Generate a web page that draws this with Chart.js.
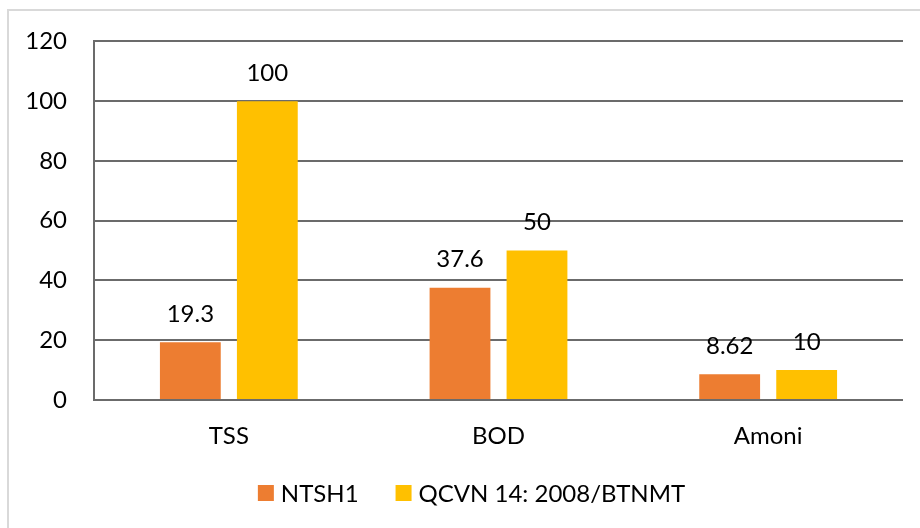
<!DOCTYPE html>
<html>
<head>
<meta charset="utf-8">
<script src="https://cdn.jsdelivr.net/npm/chart.js@4"></script>
<style>
  html, body { margin: 0; padding: 0; background: #fff; }
  #wrap { position: relative; width: 920px; height: 528px; }
  #frame { position: absolute; left: 7px; top: 9px; width: 930px; height: 540px; border-top: 2px solid #d9d9d9; border-left: 2px solid #d9d9d9; box-sizing: border-box; pointer-events: none; }
  canvas { position: absolute; left: 0; top: 0; }
</style>
</head>
<body>
<div id="wrap">
  <canvas id="c" width="920" height="528"></canvas>
  <div id="frame"></div>
</div>
<script>
const categories = ["TSS", "BOD", "Amoni"];
const seriesNames = ["NTSH1", "QCVN 14: 2008/BTNMT"];
const ntsh1 = [19.3, 37.6, 8.62];
const qcvn = [100, 50, 10];
const yTicks = [0, 20, 40, 60, 80, 100, 120];

const FONT = "Lato, 'Open Sans', 'Liberation Sans', sans-serif";
const GRID = '#6b6b6b';

const valueLabels = {
  id: 'valueLabels',
  afterDatasetsDraw(chart) {
    const ctx = chart.ctx;
    ctx.save();
    ctx.font = '24px ' + FONT;
    ctx.fillStyle = '#000';
    ctx.textAlign = 'center';
    ctx.textBaseline = 'middle';
    chart.data.datasets.forEach((ds, i) => {
      const meta = chart.getDatasetMeta(i);
      meta.data.forEach((bar, j) => {
        ctx.fillText(String(ds.data[j]), bar.x, bar.y - 28);
      });
    });
    ctx.restore();
  }
};

const bottomLegend = {
  id: 'bottomLegend',
  afterDraw(chart) {
    const ctx = chart.ctx;
    ctx.save();
    ctx.font = '24px ' + FONT;
    ctx.textBaseline = 'middle';
    ctx.textAlign = 'left';
    const box = 16, gapText = 7, gapItem = 37, cy = 493, center = 471.5;
    const items = chart.data.datasets.map(ds => ({ text: ds.label, color: ds.backgroundColor, w: ctx.measureText(ds.label).width }));
    let total = 0;
    items.forEach((it, i) => { total += box + gapText + it.w + (i < items.length - 1 ? gapItem : 0); });
    let x = center - total / 2;
    items.forEach(it => {
      ctx.fillStyle = it.color;
      ctx.fillRect(x, cy - box / 2, box, box);
      x += box + gapText;
      ctx.fillStyle = '#000';
      ctx.fillText(it.text, x, cy + 1);
      x += it.w + gapItem;
    });
    ctx.restore();
  }
};

new Chart(document.getElementById('c'), {
  type: 'bar',
  data: {
    labels: categories,
    datasets: [
      { label: seriesNames[0], data: ntsh1, backgroundColor: '#ED7D31', categoryPercentage: 0.571, barPercentage: 0.79 },
      { label: seriesNames[1], data: qcvn, backgroundColor: '#FFC000', categoryPercentage: 0.571, barPercentage: 0.79 }
    ]
  },
  options: {
    responsive: false,
    animation: false,
    devicePixelRatio: 1,
    layout: { padding: { left: 0, right: 17, top: 41, bottom: 68 } },
    plugins: {
      tooltip: { enabled: false },
      legend: { display: false }
    },
    scales: {
      x: {
        grid: { display: false, drawTicks: false },
        border: { display: false },
        ticks: { color: '#000', padding: 22, font: { size: 24, family: FONT } },
        afterFit(s) { s.height = 60; }
      },
      y: {
        min: 0, max: 120,
        afterBuildTicks(s) { s.ticks = yTicks.map(v => ({ value: v })); },
        grid: { color: GRID, lineWidth: 2, drawTicks: false },
        border: { display: true, color: GRID, width: 2 },
        ticks: { color: '#000', padding: 27, font: { size: 24, family: FONT } },
        afterFit(s) { s.width = 94; }
      }
    }
  },
  plugins: [valueLabels, bottomLegend]
});
</script>
</body>
</html>
